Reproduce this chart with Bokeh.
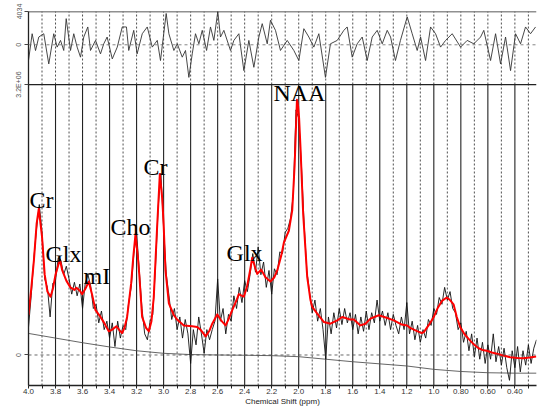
import numpy as np
from bokeh.plotting import figure
from bokeh.models import (Range1d, LinearAxis, FixedTicker, CustomJSTickFormatter,
                          Span, ColumnDataSource)
from bokeh.core.properties import value
from bokeh.embed import file_html
from bokeh.resources import INLINE

# ---------------- data (signal in units of 1e6) ----------------
data_start_ppm = 4.00
data_step_ppm = 0.02
data_signal = [
    0.33, 0.70, 1.15, 1.50, 1.78, 1.45, 0.90, 0.80, 0.45, 0.85,
    0.88, 1.15, 1.12, 0.95, 1.05, 0.90, 0.72, 0.86, 0.70, 0.84,
    0.55, 0.85, 0.95, 0.82, 0.55, 0.60, 0.38, 0.52, 0.30, 0.40,
    0.20, 0.38, 0.10, 0.40, 0.20, 0.35, 0.30, 0.60, 0.80, 1.20,
    1.45, 1.00, 0.55, 0.25, 0.18, 0.40, 0.48, 1.05, 1.75, 2.15,
    1.50, 0.95, 0.70, 0.42, 0.55, 0.30, 0.45, 0.20, 0.42, 0.25,
    -0.10, 0.30, 0.12, 0.45, 0.25, 0.02, 0.30, 0.18, 0.30, 0.40,
    0.90, 0.40, 0.55, 0.25, 0.48, 0.40, 0.70, 0.55, 0.80, 0.62,
    0.88, 0.75, 0.95, 1.20, 0.98, 1.28, 0.95, 1.10, 0.80, 1.00,
    0.72, 1.02, 0.95, 1.22, 1.20, 1.45, 1.50, 1.62, 1.90, 2.90,
    2.80, 2.25, 1.55, 1.00, 0.75, 0.50, 0.65, 0.40, 0.55, 0.30,
    -0.05, 0.45, 0.25, 0.50, 0.32, 0.55, 0.36, 0.55, 0.38, 0.50,
    0.30, 0.48, 0.25, 0.45, 0.28, 0.52, 0.30, 0.50, 0.38, 0.65,
    0.40, 0.52, 0.35, 0.50, 0.30, 0.48, 0.35, 0.25, 0.45, 0.30,
    0.62, 0.25, 0.40, 0.18, 0.35, 0.15, 0.30, 0.20, 0.42, 0.35,
    0.55, 0.48, 0.68, 0.60, 0.80, 0.65, 0.75, 0.55, 0.50, 0.30,
    0.38, 0.15, 0.28, 0.05, 0.25, -0.02, 0.20, -0.05, 0.15, -0.10,
    0.12, -0.05, 0.25, -0.08, 0.10, -0.12, 0.08, -0.15, -0.30, 0.05,
    -0.15, 0.10, -0.20, 0.05, -0.12, 0.12, -0.10, 0.08, 0.18,
]

fit_ppm = [4.00, 3.98, 3.96, 3.94, 3.924, 3.90, 3.88, 3.86, 3.837, 3.82,
           3.80, 3.768, 3.75, 3.72, 3.69, 3.66, 3.645, 3.62, 3.603, 3.58,
           3.554, 3.53, 3.504, 3.467, 3.44, 3.406, 3.38, 3.349, 3.32, 3.307,
           3.29, 3.27, 3.24, 3.225, 3.208, 3.19, 3.18, 3.159, 3.13, 3.109,
           3.09, 3.073, 3.05, 3.028, 3.01, 3.00, 2.986, 2.961, 2.924, 2.90,
           2.85, 2.789, 2.751, 2.727, 2.689, 2.66, 2.64, 2.603, 2.57, 2.541,
           2.52, 2.492, 2.46, 2.443, 2.42, 2.406, 2.381, 2.36, 2.344, 2.32,
           2.307, 2.278, 2.246, 2.209, 2.18, 2.159, 2.13, 2.11, 2.073, 2.048,
           2.03, 2.02, 2.013, 2.005, 1.997, 1.987, 1.967, 1.95, 1.937, 1.913,
           1.90, 1.863, 1.813, 1.765, 1.715, 1.678, 1.62, 1.592, 1.543, 1.506,
           1.469, 1.407, 1.35, 1.296, 1.237, 1.197, 1.175, 1.12, 1.089, 1.074,
           1.039, 1.00, 0.97, 0.94, 0.904, 0.88, 0.854, 0.83, 0.805, 0.77,
           0.731, 0.70, 0.669, 0.64, 0.608, 0.57, 0.534, 0.50, 0.435, 0.38,
           0.336, 0.29, 0.242]
fit_signal = [0.47, 0.78, 1.12, 1.55, 1.73, 1.40, 0.95, 0.75, 0.69, 0.78,
              0.95, 1.13, 1.00, 0.88, 0.80, 0.77, 0.795, 0.76, 0.72, 0.78,
              0.87, 0.72, 0.53, 0.45, 0.38, 0.28, 0.30, 0.34, 0.28, 0.26,
              0.32, 0.45, 0.85, 1.15, 1.43, 1.15, 0.95, 0.45, 0.32, 0.28,
              0.40, 0.68, 1.45, 2.14, 1.85, 1.55, 1.00, 0.61, 0.47, 0.42,
              0.35, 0.34, 0.33, 0.30, 0.22, 0.29, 0.37, 0.48, 0.40, 0.35,
              0.42, 0.53, 0.65, 0.72, 0.70, 0.69, 0.82, 1.00, 1.15, 1.02,
              0.96, 1.01, 0.92, 0.87, 0.92, 1.00, 1.17, 1.33, 1.47, 1.71,
              2.25, 2.70, 3.02, 2.95, 2.80, 2.46, 1.67, 1.25, 0.92, 0.65,
              0.57, 0.49, 0.39, 0.37, 0.41, 0.45, 0.42, 0.42, 0.35, 0.37,
              0.43, 0.47, 0.44, 0.41, 0.36, 0.35, 0.32, 0.28, 0.26, 0.27,
              0.35, 0.45, 0.56, 0.64, 0.68, 0.65, 0.60, 0.45, 0.33, 0.24,
              0.17, 0.12, 0.08, 0.06, 0.05, 0.03, 0.015, 0.0, -0.026, -0.035,
              -0.038, -0.03, -0.018]

baseline_ppm = [4.0, 3.8, 3.6, 3.4, 3.2, 3.0, 2.8, 2.6, 2.4, 2.2,
                2.0, 1.8, 1.6, 1.4, 1.2, 1.0, 0.8, 0.6, 0.4, 0.24]
baseline_signal = [0.255, 0.20, 0.145, 0.095, 0.05, 0.02, 0.005, 0.0, -0.003, -0.008,
                   -0.02, -0.05, -0.08, -0.105, -0.13, -0.17, -0.195, -0.21, -0.215, -0.215]

residual_ppm = [4.00, 3.973, 3.948, 3.924, 3.887, 3.850, 3.813, 3.788, 3.763, 3.739,
                3.721, 3.689, 3.665, 3.640, 3.615, 3.591, 3.561, 3.541, 3.504, 3.467,
                3.443, 3.418, 3.380, 3.343, 3.306, 3.275, 3.258, 3.221, 3.196, 3.158,
                3.121, 3.084, 3.047, 3.023, 2.981, 2.961, 2.924, 2.899, 2.862, 2.838,
                2.813, 2.788, 2.764, 2.739, 2.714, 2.682, 2.653, 2.628, 2.599, 2.579,
                2.554, 2.505, 2.480, 2.443, 2.406, 2.369, 2.332, 2.295, 2.270, 2.233,
                2.209, 2.172, 2.135, 2.085, 2.036, 1.999, 1.962, 1.925, 1.888, 1.851,
                1.802, 1.765, 1.715, 1.666, 1.641, 1.604, 1.567, 1.530, 1.493, 1.456,
                1.419, 1.382, 1.345, 1.320, 1.284, 1.247, 1.197, 1.160, 1.123, 1.098,
                1.061, 1.024, 0.987, 0.950, 0.913, 0.864, 0.802, 0.753, 0.704, 0.654,
                0.630, 0.580, 0.543, 0.506, 0.469, 0.432, 0.395, 0.358, 0.321, 0.284,
                0.247]
residual_signal = [-1900, 1340, -700, 940, 1340, -2320, 1340, -280, 530, -690,
                   3170, -690, 1340, -280, -1500, 940, 2160, -690, 530, -1100,
                   120, 940, -1710, -280, 2160, 2160, -690, 1750, -1100, 1340,
                   2160, -280, 530, -1910, 3790, 1340, -690, 120, -1500, -690,
                   -3950, -1100, 1340, 120, 1750, -690, 2160, 530, 4034, 940,
                   1750, -690, 530, 1340, -3130, 530, -2730, 940, 2560, 120,
                   2970, 1750, -690, 530, -690, -1910, 1950, 940, -280, 1340,
                   -3950, 120, 530, 1750, 2160, -1500, 120, 940, -1910, 940,
                   1750, 120, 1750, 940, -1910, 530, 3380, 1340, -690, 940,
                   -1910, 2160, 1340, -280, 530, 1340, -280, 530, 120, 940,
                   1750, -1910, 1340, -2320, 940, -3130, 1340, 120, 2160, 1340,
                   2160]

peak_labels = ["Cr", "Glx", "mI", "Cho", "Cr", "Glx", "NAA"]
peak_label_ppm = [3.993, 3.874, 3.593, 3.393, 3.149, 2.534, 2.187]
peak_label_signal = [1.83, 1.20, 0.94, 1.51, 2.22, 1.21, 3.10]

x_ticks = [4.0, 3.8, 3.6, 3.4, 3.2, 3.0, 2.8, 2.6, 2.4, 2.2, 2.0,
           1.8, 1.6, 1.4, 1.2, 1.0, 0.8, 0.6, 0.4]
x_tick_labels = ["4.0", "3.8", "3.6", "3.4", "3.2", "3.0", "2.8", "2.6", "2.4", "2.2", "2.0",
                 "1.8", "1.6", "1.4", "1.2", "1.0", "0.80", "0.60", "0.40"]
x_minor_ticks = [3.9, 3.7, 3.5, 3.3, 3.1, 2.9, 2.7, 2.5, 2.3, 2.1,
                 1.9, 1.7, 1.5, 1.3, 1.1, 0.9, 0.7, 0.5, 0.3]

main_top_label = 3.2          # "3.2E+06"
res_top_label = 4034

# ---------------- layout ranges ----------------
main_lo, main_hi = -0.361, 4.064
res_lo, res_hi = -41292, 4034

p = figure(width=543, height=408,
           x_range=Range1d(4.0, 0.24), y_range=Range1d(main_lo, main_hi),
           output_backend="svg", toolbar_location=None,
           x_axis_location=None, y_axis_location=None,
           min_border_left=28, min_border_right=7, min_border_top=11, min_border_bottom=0)
p.extra_y_ranges = {"res": Range1d(res_lo, res_hi)}
p.grid.visible = False
p.outline_line_color = None
p.background_fill_color = "white"
p.border_fill_color = "white"

# grid lines
sep = main_top_label
major_src = ColumnDataSource(dict(x=x_ticks, y0=[main_lo] * len(x_ticks), y1=[sep] * len(x_ticks)))
minor_src = ColumnDataSource(dict(x=x_minor_ticks, y0=[main_lo] * len(x_minor_ticks), y1=[sep] * len(x_minor_ticks)))
all_t = x_ticks + x_minor_ticks
top_src = ColumnDataSource(dict(x=all_t, y0=[sep] * len(all_t), y1=[main_hi] * len(all_t)))
p.segment(x0="x", x1="x", y0="y0", y1="y1", source=major_src, line_color="#222222", line_width=1.1)
p.segment(x0="x", x1="x", y0="y0", y1="y1", source=minor_src, line_color="#222222",
          line_width=0.8, line_dash="2 2")
p.segment(x0="x", x1="x", y0="y0", y1="y1", source=top_src, line_color="#222222",
          line_width=0.8, line_dash="2 2")

p.add_layout(Span(location=0, dimension="width", line_color="#444444", line_width=0.8, line_dash="3 3"))
p.add_layout(Span(location=0, dimension="width", y_range_name="res", line_color="#666666",
                  line_width=0.8, line_dash="3 3"))
p.add_layout(Span(location=sep, dimension="width", line_color="#222222", line_width=1.3))
p.add_layout(Span(location=main_hi, dimension="width", line_color="#222222", line_width=1.3))

# series
data_ppm = [round(data_start_ppm - data_step_ppm * i, 3) for i in range(len(data_signal))]
p.line(baseline_ppm, baseline_signal, line_color="#555555", line_width=0.9)
p.line(data_ppm, data_signal, line_color="#111111", line_width=0.9)
p.line(fit_ppm, fit_signal, line_color="#ff0000", line_width=2, line_join="round")
p.line(residual_ppm, residual_signal, y_range_name="res", line_color="#333333", line_width=0.9)

p.text(x=peak_label_ppm, y=peak_label_signal, text=peak_labels,
       text_font=value("Liberation Serif"), text_font_size="24px",
       text_align="left", text_baseline="alphabetic", text_color="black")

# axes
xfmt = CustomJSTickFormatter(args=dict(vals=x_ticks, labs=x_tick_labels), code="""
for (let i = 0; i < vals.length; i++) { if (Math.abs(tick - vals[i]) < 1e-6) return labs[i]; }
return '';
""")
xaxis = LinearAxis(ticker=FixedTicker(ticks=x_ticks, minor_ticks=x_minor_ticks), formatter=xfmt,
                   axis_label="Chemical Shift (ppm)")
xaxis.axis_line_color = "#222222"
xaxis.axis_line_width = 1.3
xaxis.major_tick_out = 3
xaxis.major_tick_in = 0
xaxis.minor_tick_out = 3
xaxis.minor_tick_in = 0
xaxis.major_tick_line_color = "#222222"
xaxis.minor_tick_line_color = "#222222"
xaxis.major_label_standoff = 0
xaxis.major_label_text_font = "Liberation Sans"
xaxis.major_label_text_font_size = "8px"
xaxis.major_label_text_color = "#333333"
xaxis.axis_label_standoff = 0
xaxis.axis_label_text_font = "Liberation Sans"
xaxis.axis_label_text_font_size = "8px"
xaxis.axis_label_text_font_style = "normal"
xaxis.axis_label_text_color = "#222222"
p.add_layout(xaxis, "below")

y_res_zero = main_lo + (0 - res_lo) / (res_hi - res_lo) * (main_hi - main_lo)
y_ticks = [0, main_top_label, y_res_zero, main_hi]
y_tick_labels = ["0", "3.2E+06", "0", str(res_top_label)]
yfmt = CustomJSTickFormatter(args=dict(vals=y_ticks, labs=y_tick_labels), code="""
for (let i = 0; i < vals.length; i++) { if (Math.abs(tick - vals[i]) < 1e-6) return labs[i]; }
return '';
""")
yaxis = LinearAxis(ticker=FixedTicker(ticks=y_ticks, minor_ticks=[]), formatter=yfmt)
yaxis.axis_line_color = "#222222"
yaxis.axis_line_width = 1.3
yaxis.major_tick_out = 4
yaxis.major_tick_in = 0
yaxis.major_tick_line_color = "#444444"
yaxis.major_label_orientation = "vertical"
yaxis.major_label_standoff = 2
yaxis.major_label_text_font = "Liberation Sans"
yaxis.major_label_text_font_size = "7px"
yaxis.major_label_text_color = "#555555"
p.add_layout(yaxis, "left")

open("out.html", "w").write(file_html(p, INLINE))
